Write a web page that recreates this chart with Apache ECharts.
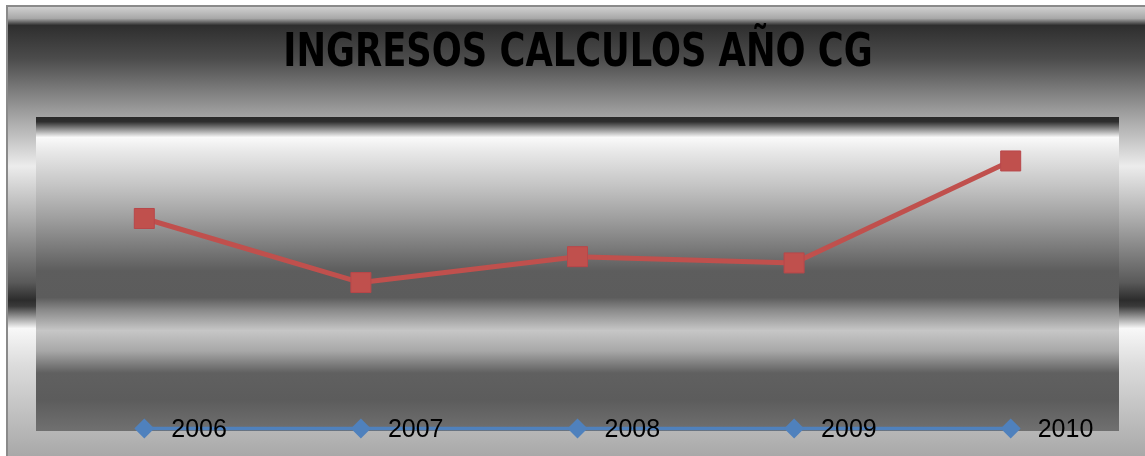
<!DOCTYPE html>
<html>
<head>
<meta charset="utf-8">
<script src="https://cdn.jsdelivr.net/npm/echarts@6/dist/echarts.min.js"></script>
<style>
  html, body { margin: 0; padding: 0; background: #ffffff; }
  #chart { width: 1145px; height: 456px; }
</style>
</head>
<body>
<div id="chart"></div>
<script>
const categories = ['2006', '2007', '2008', '2009', '2010'];
const yearSeries = [2006, 2007, 2008, 2009, 2010];
const ingresos = [169200, 118200, 138800, 133800, 215000];
const titleText = 'INGRESOS CALCULOS AÑO CG';
const narrow = '"Liberation Sans Narrow", "DejaVu Sans Condensed", "Arial Narrow", sans-serif';
const labelFont = '"Liberation Sans", Arial, sans-serif';

const chart = echarts.init(document.getElementById('chart'), null, { renderer: 'canvas' });

const outerGradient = new echarts.graphic.LinearGradient(0, 0, 0, 1, [
  { offset: 0.000, color: '#d6d6d6' },
  { offset: 0.029, color: '#a8a8a8' },
  { offset: 0.044, color: '#2e2e2e' },
  { offset: 0.117, color: '#4c4c4c' },
  { offset: 0.227, color: '#9a9a9a' },
  { offset: 0.349, color: '#ececec' },
  { offset: 0.470, color: '#a8a8a8' },
  { offset: 0.600, color: '#5a5a5a' },
  { offset: 0.639, color: '#2c2c2c' },
  { offset: 0.652, color: '#3a3a3a' },
  { offset: 0.700, color: '#f8f8f8' },
  { offset: 0.779, color: '#dcdcdc' },
  { offset: 1.000, color: '#a2a2a2' }
]);

const plotGradient = new echarts.graphic.LinearGradient(0, 0, 0, 1, [
  { offset: 0.000, color: '#2a2a2a' },
  { offset: 0.015, color: '#2e2e2e' },
  { offset: 0.030, color: '#6a6a6a' },
  { offset: 0.065, color: '#fafafa' },
  { offset: 0.110, color: '#e8e8e8' },
  { offset: 0.220, color: '#c4c4c4' },
  { offset: 0.330, color: '#9c9c9c' },
  { offset: 0.425, color: '#777777' },
  { offset: 0.490, color: '#5d5d5d' },
  { offset: 0.575, color: '#5c5c5c' },
  { offset: 0.615, color: '#8a8a8a' },
  { offset: 0.680, color: '#c6c6c6' },
  { offset: 0.745, color: '#a8a8a8' },
  { offset: 0.815, color: '#606060' },
  { offset: 0.900, color: '#5c5c5c' },
  { offset: 1.000, color: '#707070' }
]);

const option = {
  animation: false,
  backgroundColor: '#ffffff',
  graphic: [
    {
      type: 'rect',
      z: -10,
      silent: true,
      shape: { x: 7, y: 6, width: 1150, height: 460 },
      style: { fill: outerGradient, stroke: '#8a8a8a', lineWidth: 2 }
    },
    {
      type: 'text',
      z: 10,
      silent: true,
      x: 578,
      y: 54,
      scaleX: 0.835,
      scaleY: 1,
      style: {
        text: titleText,
        fontFamily: narrow,
        fontWeight: 'bold',
        fontSize: 47,
        fill: '#000000',
        align: 'center',
        verticalAlign: 'middle'
      }
    }
  ],
  grid: {
    left: 36,
    right: 26,
    top: 117,
    bottom: 25,
    show: true,
    borderWidth: 0,
    backgroundColor: plotGradient
  },
  xAxis: {
    type: 'category',
    data: categories,
    z: 10,
    boundaryGap: true,
    axisLine: { show: false },
    axisTick: { show: false },
    splitLine: { show: false },
    axisLabel: {
      fontFamily: labelFont,
      fontSize: 25,
      color: '#000000',
      align: 'left',
      verticalAlign: 'middle',
      margin: -1,
      padding: [0, 0, 0, 27]
    }
  },
  yAxis: {
    type: 'value',
    min: 0,
    max: 250000,
    show: false,
    splitLine: { show: false }
  },
  series: [
    {
      name: 'Año',
      type: 'line',
      data: yearSeries,
      symbol: 'diamond',
      symbolSize: 20,
      lineStyle: { color: '#4f81bd', width: 3.5 },
      itemStyle: { color: '#4f81bd' },
      z: 2
    },
    {
      name: 'Ingresos',
      type: 'line',
      data: ingresos,
      symbol: 'rect',
      symbolSize: 20,
      lineStyle: { color: '#c0504d', width: 5 },
      itemStyle: { color: '#c0504d', borderColor: '#b8474a', borderWidth: 1 },
      z: 3
    }
  ]
};

chart.setOption(option);
</script>
</body>
</html>
